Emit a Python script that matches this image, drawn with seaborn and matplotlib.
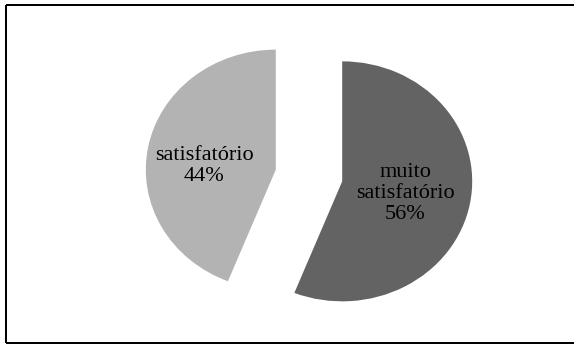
import matplotlib
matplotlib.use("Agg")
import matplotlib.pyplot as plt
from matplotlib.lines import Line2D
import seaborn as sns

# Avaliação: parcelas do gráfico de pizza
categories = ["satisfatório", "muito\nsatisfatório"]
values = [44, 56]
colors = ["#B3B3B3", "#636363"]

sns.set_theme(style="white")
plt.rcParams["font.family"] = ["Liberation Serif", "DejaVu Serif"]

W, H, DPI = 577, 345, 100
fig = plt.figure(figsize=(W / DPI, H / DPI), dpi=DPI)
ax = fig.add_axes([0, 0, 1, 1])

# pixel geometry of the (slightly elliptical) pie
cx_px, cy_px = 309.0, 175.5   # pie centre, from top-left
rx_px, ry_px = 130.0, 120.0   # horizontal / vertical radius

wedges, _ = ax.pie(
    values,
    colors=colors,
    startangle=90,
    counterclock=True,
    explode=[0.26, 0.26],
    wedgeprops=dict(linewidth=0),
)

ax.set_aspect("auto")
ax.set_xlim(-cx_px / rx_px, (W - cx_px) / rx_px)
ax.set_ylim(-(H - cy_px) / ry_px, cy_px / ry_px)
ax.axis("off")

# label placement relative to each exploded wedge centre (data units)
label_offsets = [(-0.552, 0.030), (0.487, -0.100)]
total = sum(values)
for w, cat, v, (dx, dy) in zip(wedges, categories, values, label_offsets):
    x0, y0 = w.center
    ax.text(x0 + dx, y0 + dy, f"{cat}\n{round(100 * v / total)}%",
            ha="center", va="center", multialignment="center",
            fontsize=16, color="black", linespacing=1.15)

# frame around the chart (open on the right side)
lw = 2 * 72 / DPI
left = 6 / W
right = 574 / W
top = 1 - 5 / H
bottom = 1 - 343 / H
for xs, ys in [([left, right], [top, top]),
               ([left, left], [top, bottom]),
               ([left, right], [bottom, bottom])]:
    fig.add_artist(Line2D(xs, ys, color="black", linewidth=lw,
                          solid_capstyle="butt", transform=fig.transFigure))

fig.savefig("out.png", dpi=DPI, facecolor="white")
